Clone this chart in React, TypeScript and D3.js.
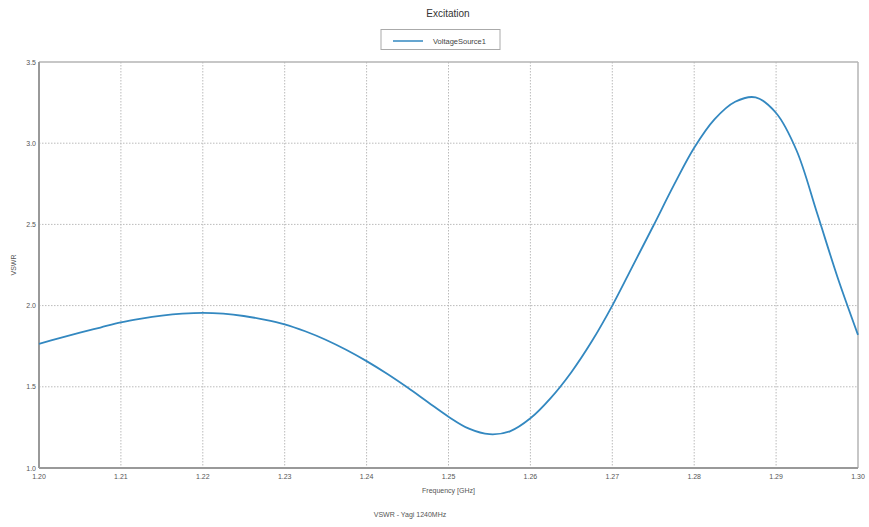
import React from 'react';
import * as d3 from 'd3';

// Frequency [GHz] samples and VSWR
const freqs = [
  1.2, 1.2025, 1.205, 1.2075, 1.21, 1.2125, 1.215, 1.2175, 1.22, 1.2225,
  1.225, 1.2275, 1.23, 1.2325, 1.235, 1.2375, 1.24, 1.2425, 1.245, 1.2475,
  1.25, 1.2525, 1.255, 1.2575, 1.26, 1.2625, 1.265, 1.2675, 1.27, 1.2725,
  1.275, 1.2775, 1.28, 1.2825, 1.285, 1.2875, 1.29, 1.2925, 1.295, 1.2975, 1.3,
];
const vswr = [
  1.765, 1.8, 1.833, 1.865, 1.897, 1.92, 1.938, 1.95, 1.955, 1.95,
  1.936, 1.914, 1.885, 1.842, 1.79, 1.728, 1.658, 1.58, 1.495, 1.405,
  1.316, 1.242, 1.208, 1.226, 1.306, 1.432, 1.59, 1.78, 2.0, 2.245,
  2.49, 2.74, 2.972, 3.148, 3.255, 3.282, 3.186, 2.955, 2.57, 2.175, 1.82,
];
const xTicks = [1.2, 1.21, 1.22, 1.23, 1.24, 1.25, 1.26, 1.27, 1.28, 1.29, 1.3];
const yTicks = [1.0, 1.5, 2.0, 2.5, 3.0, 3.5];
const seriesName = 'VoltageSource1';

const W = 869;
const H = 527;
const margin = { top: 62, right: 11, bottom: 59, left: 39 };
const font = '"Liberation Sans", Arial, sans-serif';
const lineColor = '#3388c0';

const App = () => {
  const x = d3.scaleLinear().domain([1.2, 1.3]).range([margin.left, W - margin.right]);
  const y = d3.scaleLinear().domain([1.0, 3.5]).range([H - margin.bottom, margin.top]);

  const points = freqs.map((f, i) => ({ f, v: vswr[i] }));
  const line = d3.line<{ f: number; v: number }>()
    .x(d => x(d.f))
    .y(d => y(d.v))
    .curve(d3.curveCatmullRom.alpha(0.5));

  const x0 = margin.left;
  const x1 = W - margin.right;
  const y0 = H - margin.bottom;
  const y1 = margin.top;

  return (
    <svg width={W} height={H} style={{ position: 'absolute', left: 0, top: 0, background: '#fff' }}>
      <text x={448} y={17} textAnchor="middle" fontFamily={font} fontSize={10} fill="#333">Excitation</text>

      {/* legend */}
      <rect x={381} y={29.5} width={119} height={20} fill="#fff" stroke="#aaa" strokeWidth={1} />
      <line x1={393} x2={423} y1={41} y2={41} stroke={lineColor} strokeWidth={1.5} />
      <text x={433} y={43.5} fontFamily={font} fontSize={7.5} fill="#444">{seriesName}</text>

      {/* grid */}
      {xTicks.slice(1, -1).map(t => (
        <line key={'gx' + t} x1={x(t)} x2={x(t)} y1={y1} y2={y0} stroke="#bbb" strokeWidth={1} strokeDasharray="1.5,1.5" />
      ))}
      {yTicks.slice(1, -1).map(t => (
        <line key={'gy' + t} x1={x0} x2={x1} y1={y(t)} y2={y(t)} stroke="#bbb" strokeWidth={1} strokeDasharray="1.5,1.5" />
      ))}

      {/* frame */}
      <line x1={x0} x2={x1} y1={y1} y2={y1} stroke="#b5b5b5" strokeWidth={1.5} />
      <line x1={x1} x2={x1} y1={y1} y2={y0} stroke="#b5b5b5" strokeWidth={1.5} />
      <line x1={x0} x2={x0} y1={y1} y2={y0} stroke="#999" strokeWidth={2} />
      <line x1={x0} x2={x1} y1={y0} y2={y0} stroke="#999" strokeWidth={2} />

      <path d={line(points) || ''} fill="none" stroke={lineColor} strokeWidth={1.8} />

      {/* tick labels */}
      {yTicks.map(t => (
        <text key={'ty' + t} x={x0 - 3} y={y(t) + 2.5} textAnchor="end" fontFamily={font} fontSize={7} fill="#555">
          {d3.format('.1f')(t)}
        </text>
      ))}
      {xTicks.map(t => (
        <text key={'tx' + t} x={x(t)} y={y0 + 11} textAnchor="middle" fontFamily={font} fontSize={7} fill="#555">
          {d3.format('.2f')(t)}
        </text>
      ))}

      <text transform={`translate(16,${(y0 + y1) / 2}) rotate(-90)`} textAnchor="middle" fontFamily={font} fontSize={7} fill="#555">VSWR</text>
      <text x={(x0 + x1) / 2} y={493} textAnchor="middle" fontFamily={font} fontSize={7} fill="#555">Frequency [GHz]</text>
      <text x={410} y={517} textAnchor="middle" fontFamily={font} fontSize={7} fill="#555">VSWR - Yagi 1240MHz</text>
    </svg>
  );
};

export default App;
